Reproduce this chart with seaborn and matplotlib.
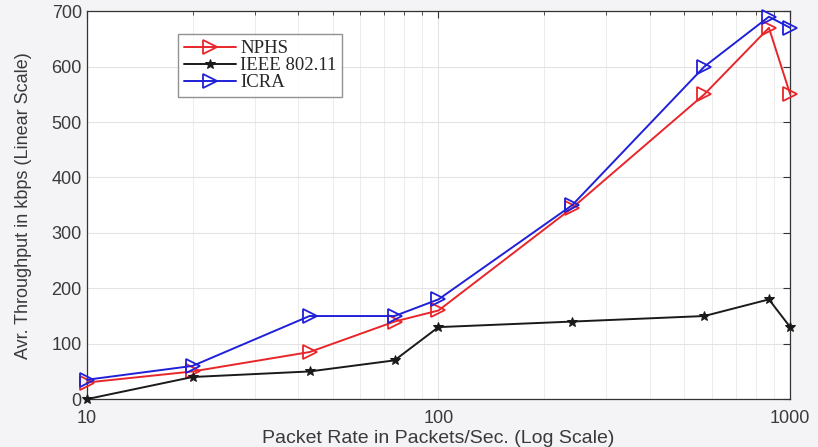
import pandas as pd
import matplotlib.pyplot as plt
import seaborn as sns
from matplotlib.ticker import FixedLocator, NullFormatter

# Data
packet_rate = [10, 20, 43, 75, 100, 240, 570, 870, 1000]
nphs = [30, 50, 85, 140, 160, 345, 550, 670, 550]
ieee = [0, 40, 50, 70, 130, 140, 150, 180, 130]
icra = [35, 60, 150, 150, 180, 350, 600, 690, 670]

series_names = ['NPHS', 'IEEE 802.11', 'ICRA']
series_colors = ['#e8262a', '#1a1a1a', '#2020d8']
series_markers = ['>', '*', '>']

df = pd.DataFrame({
    'rate': packet_rate * 3,
    'throughput': nphs + ieee + icra,
    'scheme': [n for n in series_names for _ in packet_rate],
})


def create_plot():
    sns.set_theme(style="whitegrid")
    plt.rcParams['font.family'] = ['Liberation Sans', 'DejaVu Sans']

    fig = plt.figure(figsize=(8.18, 4.47), dpi=100, facecolor='#f4f3f6')
    ax = fig.add_axes([0.106, 0.107, 0.86, 0.868])
    ax.set_facecolor('white')

    for name, color, marker in zip(series_names, series_colors, series_markers):
        sub = df[df['scheme'] == name]
        if marker == '>':
            sns.lineplot(data=sub, x='rate', y='throughput', ax=ax, color=color,
                         marker=marker, markersize=10, markerfacecolor='none',
                         markeredgecolor=color, markeredgewidth=1.3,
                         linewidth=1.4, label=name, clip_on=False, zorder=3)
        else:
            sns.lineplot(data=sub, x='rate', y='throughput', ax=ax, color=color,
                         marker=marker, markersize=7, markerfacecolor=color,
                         markeredgecolor=color, linewidth=1.4, label=name,
                         clip_on=False, zorder=3)

    ax.set_xscale('log')
    ax.set_xlim(10, 1000)
    ax.set_ylim(0, 700)
    ax.set_xticks([10, 100, 1000])
    ax.set_xticklabels(['10', '100', '1000'])
    ax.xaxis.set_minor_locator(FixedLocator(
        [m * d for d in (10, 100) for m in range(2, 10)]))
    ax.xaxis.set_minor_formatter(NullFormatter())
    ax.set_yticks(range(0, 701, 100))

    ax.grid(True, which='major', color='#e3e3e3', linewidth=0.8)
    ax.grid(True, which='minor', axis='x', color='#ececec', linewidth=0.7)

    for side in ax.spines.values():
        side.set_color('#333333')
        side.set_linewidth(0.9)

    ax.tick_params(which='both', direction='in', top=True, right=True,
                   colors='#333333', labelcolor='#3a3a3a', labelsize=13)
    ax.tick_params(which='major', length=5, width=0.8)
    ax.tick_params(which='minor', length=3, width=0.6)
    ax.tick_params(axis='x', pad=8)

    ax.set_xlabel('Packet Rate in Packets/Sec. (Log Scale)', fontsize=14,
                  color='#3a3a3a', labelpad=2)
    ax.set_ylabel('Avr. Throughput in kbps (Linear Scale)', fontsize=13,
                  color='#3a3a3a', labelpad=14)

    leg = ax.legend(loc='upper left', bbox_to_anchor=(0.13, 0.94),
                    prop={'family': 'Liberation Serif', 'size': 13.5},
                    frameon=True, fancybox=False, edgecolor='#777777',
                    handlelength=2.8, handletextpad=0.2, labelspacing=0.0,
                    borderpad=0.3, borderaxespad=0)
    leg.get_frame().set_linewidth(1.0)

    fig.savefig('out.png', dpi=100, facecolor=fig.get_facecolor())
    plt.close(fig)


if __name__ == "__main__":
    create_plot()
